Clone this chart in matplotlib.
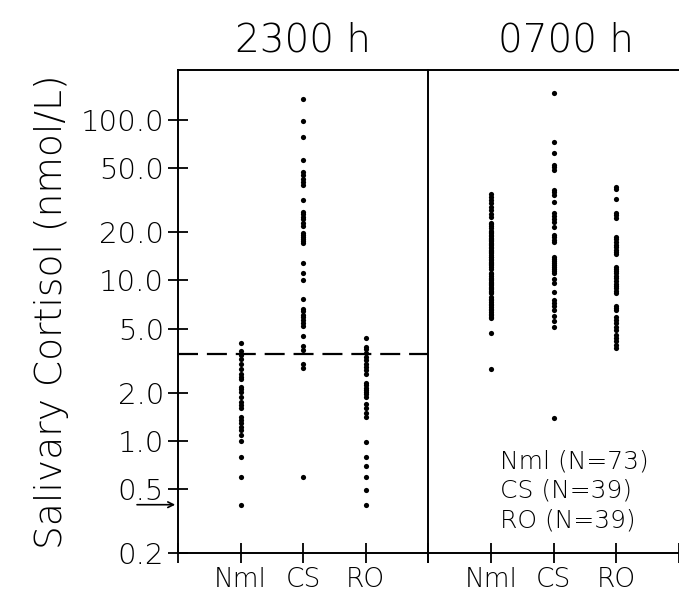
import matplotlib
matplotlib.use("Agg")
from matplotlib import pyplot as plt
from matplotlib.ticker import FixedLocator, NullFormatter, FixedFormatter

plt.rcParams['font.family'] = ['DejaVu Sans']
plt.rcParams['font.weight'] = 'light'

# salivary cortisol, nmol/L
nml_2300 = [4.08, 3.64, 3.44, 3.25, 3.02, 2.81, 2.62, 2.51, 2.44, 2.17, 2.11,
            2.02, 1.88, 1.75, 1.68, 1.61, 1.41, 1.35, 1.29, 1.22, 1.17, 1.09,
            1.00, 0.795, 0.597, 0.40]
cs_2300 = [135.6, 98.9, 78.6, 56.5, 47.5, 45.5, 43.0, 41.2, 39.4, 31.8, 26.8,
           26.0, 24.9, 24.2, 22.9, 21.9, 19.8, 19.2, 18.7, 18.2, 17.7, 17.1,
           12.9, 11.1, 10.1, 7.68, 6.65, 6.46, 6.10, 5.93, 5.68, 5.44, 5.21,
           4.51, 3.91, 3.69, 3.02, 2.85, 0.597]
ro_2300 = [4.39, 3.85, 3.75, 3.54, 3.34, 3.20, 3.02, 2.89, 2.77, 2.62, 2.30,
           2.23, 2.14, 2.08, 2.02, 1.96, 1.88, 1.70, 1.61, 1.50, 1.41, 0.99,
           0.795, 0.70, 0.597, 0.495, 0.40]

nml_0700 = [34.7, 33.2, 31.8, 30.5, 28.8, 27.5, 26.0, 24.9, 22.9, 22.5, 21.9,
            21.2, 20.4, 20.0, 19.7, 19.3, 18.8, 18.5, 18.1, 17.8, 17.5, 17.1,
            16.8, 16.6, 16.2, 15.9, 15.5, 15.3, 15.0, 14.8, 14.4, 14.1, 13.9,
            13.6, 13.4, 13.1, 12.9, 12.6, 12.4, 12.2, 11.8, 11.1, 10.9, 10.6,
            10.4, 10.2, 10.0, 9.8, 9.6, 9.45, 9.3, 9.1, 8.95, 8.8, 8.6, 8.5,
            8.37, 7.9, 7.7, 7.5, 7.3, 7.15, 7.0, 6.8, 6.6, 6.5, 6.35, 6.2,
            6.1, 5.95, 5.85, 4.71, 2.81]
cs_0700 = [147.8, 73.1, 62.5, 52.6, 51.1, 48.9, 36.7, 35.7, 34.2, 30.9, 26.4,
           25.3, 24.2, 23.2, 21.6, 19.2, 18.7, 17.9, 17.4, 14.0, 13.6, 13.3,
           12.9, 12.5, 12.2, 11.8, 11.5, 11.1, 10.2, 9.66, 8.49, 7.57, 7.25,
           6.95, 6.56, 6.02, 5.60, 5.14, 1.39]
ro_0700 = [38.3, 37.3, 32.3, 26.4, 25.6, 24.6, 18.7, 18.2, 17.4, 16.7, 16.2,
           15.5, 15.1, 14.6, 12.2, 11.8, 11.5, 11.1, 10.7, 10.4, 9.94, 9.52,
           9.25, 8.99, 8.61, 8.37, 6.95, 6.75, 6.56, 5.93, 5.68, 5.44, 5.14,
           4.92, 4.58, 4.39, 4.20, 3.97, 3.80]

groups = ["Nml", "CS", "RO"]
cutoff = 3.5
detect_limit = 0.4
yticks = [0.2, 0.5, 1.0, 2.0, 5.0, 10.0, 20.0, 50.0, 100.0]
legend_lines = ["Nml (N=73)", "CS (N=39)", "RO (N=39)"]

fig = plt.figure(figsize=(6.79, 5.98), dpi=100)
axL = fig.add_axes([178 / 679, 45 / 598, 250 / 679, 483 / 598])
axR = fig.add_axes([428 / 679, 45 / 598, 251 / 679, 483 / 598], sharey=axL)

for ax, data in ((axL, [nml_2300, cs_2300, ro_2300]),
                 (axR, [nml_0700, cs_0700, ro_0700])):
    for i, vals in enumerate(data):
        ax.scatter([i + 1] * len(vals), vals, s=14, color='black',
                   linewidths=0, zorder=3)
    ax.set_xlim(0, 4)
    ax.set_xticks([0, 1, 2, 3, 4])
    ax.set_xticklabels([""] + groups + [""], fontsize=19)
    ax.tick_params(axis='x', direction='inout', length=14, width=1.3, pad=3)
    for s in ax.spines.values():
        s.set_linewidth(1.4)

axL.set_yscale('log')
axL.set_ylim(0.2, 205)
axL.yaxis.set_major_locator(FixedLocator(yticks))
axL.yaxis.set_major_formatter(FixedFormatter(["%.1f" % v for v in yticks]))
axL.yaxis.set_minor_locator(FixedLocator([]))
axL.yaxis.set_minor_formatter(NullFormatter())
axL.tick_params(axis='y', direction='inout', length=14, width=1.3,
                labelsize=21, pad=3)
axL.spines['right'].set_visible(False)
axL.set_ylabel("Salivary Cortisol (nmol/L)", fontsize=27, fontweight='light',
               labelpad=8)

axR.tick_params(axis='y', left=False, labelleft=False)
axR.spines['right'].set_visible(False)

axL.axhline(cutoff, color='black', lw=1.6, dashes=(9, 4))

fig.text(303 / 679, 0.933, "2300 h", fontsize=28, fontweight='light',
         ha='center', va='center')
fig.text(566 / 679, 0.933, "0700 h", fontsize=28, fontweight='light',
         ha='center', va='center')

for k, line in enumerate(legend_lines):
    axR.text(0.287, 0.19 - k * 0.061, line, transform=axR.transAxes,
             fontsize=18, ha='left', va='center')

axL.annotate("", xy=(0, detect_limit), xytext=(-0.7, detect_limit),
             annotation_clip=False,
             arrowprops=dict(arrowstyle='->', color='black', lw=1.2))

fig.savefig("out.png", dpi=100)
